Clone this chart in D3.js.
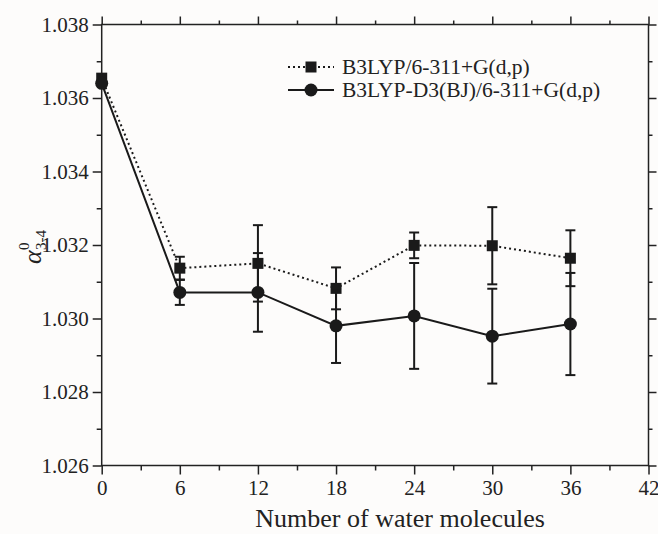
<!DOCTYPE html>
<html>
<head>
<meta charset="utf-8">
<script src="https://cdn.jsdelivr.net/npm/d3@7"></script>
<style>
  body { margin: 0; background: #fdfcfb; }
  svg { display: block; }
  .axis path, .axis line { stroke: #222; stroke-width: 1.5; }
</style>
</head>
<body>
<div id="chart"></div>
<script>
// data
const waters = [0, 6, 12, 18, 24, 30, 36];
const b3lyp = [1.03654, 1.03137, 1.03150, 1.03082, 1.03199, 1.03198, 1.03164];
const b3lypErr = [0, 0.00031, 0.00104, 0.00057, 0.00035, 0.00105, 0.00076];
const b3lypD3 = [1.03640, 1.03071, 1.03071, 1.02980, 1.03007, 1.02952, 1.02985];
const b3lypD3Err = [0, 0.00034, 0.00107, 0.00101, 0.00144, 0.00129, 0.00139];
const xTicks = [0, 6, 12, 18, 24, 30, 36, 42];
const xMinor = [3, 9, 15, 21, 27, 33, 39];
const yTicks = [1.026, 1.028, 1.030, 1.032, 1.034, 1.036, 1.038];
const yMinor = [1.027, 1.029, 1.031, 1.033, 1.035, 1.037];
const legendNames = ["B3LYP/6-311+G(d,p)", "B3LYP-D3(BJ)/6-311+G(d,p)"];

const width = 658, height = 534;
const margin = {top: 24.5, right: 9.5, bottom: 68.5, left: 101.7};
const ink = "#1a1a1a";
const serif = "Liberation Serif, Times New Roman, serif";

const svg = d3.select("#chart").append("svg")
  .attr("width", width)
  .attr("height", height);

const x = d3.scaleLinear().domain([0, 42]).range([margin.left, width - margin.right]);
const y = d3.scaleLinear().domain([1.026, 1.038]).range([height - margin.bottom, margin.top]);

// frame axes: major + minor ticks, all pointing outward
const yBot = y.range()[0], yTop = y.range()[1], xLeft = x.range()[0], xRight = x.range()[1];

svg.append("g").attr("class", "axis").attr("transform", `translate(0,${yBot})`)
  .call(d3.axisBottom(x).tickValues(xTicks).tickSize(9).tickPadding(6).tickFormat(d3.format("d")));
svg.append("g").attr("class", "axis").attr("transform", `translate(0,${yBot})`)
  .call(d3.axisBottom(x).tickValues(xMinor).tickSize(5).tickFormat(""));
svg.append("g").attr("class", "axis").attr("transform", `translate(0,${yTop})`)
  .call(d3.axisTop(x).tickValues(xTicks).tickSize(8).tickFormat(""));
svg.append("g").attr("class", "axis").attr("transform", `translate(0,${yTop})`)
  .call(d3.axisTop(x).tickValues(xMinor).tickSize(4).tickFormat(""));

svg.append("g").attr("class", "axis").attr("transform", `translate(${xLeft},0)`)
  .call(d3.axisLeft(y).tickValues(yTicks).tickSize(9).tickPadding(4).tickFormat(d3.format(".3f")));
svg.append("g").attr("class", "axis").attr("transform", `translate(${xLeft},0)`)
  .call(d3.axisLeft(y).tickValues(yMinor).tickSize(5).tickFormat(""));
svg.append("g").attr("class", "axis").attr("transform", `translate(${xRight},0)`)
  .call(d3.axisRight(y).tickValues(yTicks).tickSize(8).tickFormat(""));
svg.append("g").attr("class", "axis").attr("transform", `translate(${xRight},0)`)
  .call(d3.axisRight(y).tickValues(yMinor).tickSize(4).tickFormat(""));

svg.selectAll(".axis").attr("font-family", serif).attr("font-size", 21);
svg.selectAll(".axis text").attr("fill", "#222");
svg.selectAll(".axis .domain").remove();
svg.append("rect")
  .attr("x", xLeft).attr("y", yTop)
  .attr("width", xRight - xLeft).attr("height", yBot - yTop)
  .attr("fill", "none").attr("stroke", "#222").attr("stroke-width", 1.5);

// axis titles
svg.append("text")
  .attr("x", (xLeft + xRight) / 2 + 25)
  .attr("y", 527)
  .attr("text-anchor", "middle")
  .style("font-family", serif)
  .style("font-size", "26px")
  .attr("fill", "#222")
  .text("Number of water molecules");

const yl = svg.append("g").attr("transform", "translate(41,250) rotate(-90)")
  .style("font-family", serif).attr("fill", "#222");
yl.append("text").attr("x", -14).attr("y", 0).style("font-size", "26px").style("font-style", "italic").text("α");
yl.append("text").attr("x", 0).attr("y", -12).style("font-size", "15px").text("0");
yl.append("text").attr("x", 0).attr("y", 5).style("font-size", "15px").text("3-4");

// series
const series = [
  {name: legendNames[0], vals: b3lyp, err: b3lypErr, dash: "2,3", shape: "square"},
  {name: legendNames[1], vals: b3lypD3, err: b3lypD3Err, dash: null, shape: "circle"}
];

const line = d3.line().x(d => x(d[0])).y(d => y(d[1]));

series.forEach(s => {
  const pts = waters.map((w, i) => [w, s.vals[i], s.err[i]]);
  const g = svg.append("g");

  // error bars
  const eb = g.selectAll(".eb").data(pts.filter(d => d[2] > 0)).join("g");
  eb.append("line")
    .attr("x1", d => x(d[0])).attr("x2", d => x(d[0]))
    .attr("y1", d => y(d[1] - d[2])).attr("y2", d => y(d[1] + d[2]))
    .attr("stroke", ink).attr("stroke-width", 2);
  [-1, 1].forEach(sign => {
    eb.append("line")
      .attr("x1", d => x(d[0]) - 5).attr("x2", d => x(d[0]) + 5)
      .attr("y1", d => y(d[1] + sign * d[2])).attr("y2", d => y(d[1] + sign * d[2]))
      .attr("stroke", ink).attr("stroke-width", 2);
  });

  g.append("path")
    .attr("d", line(pts))
    .attr("fill", "none")
    .attr("stroke", ink)
    .attr("stroke-width", 2)
    .attr("stroke-dasharray", s.dash);

  if (s.shape === "square") {
    g.selectAll("rect").data(pts).join("rect")
      .attr("x", d => x(d[0]) - 5.5).attr("y", d => y(d[1]) - 5.5)
      .attr("width", 11).attr("height", 11)
      .attr("fill", ink);
  } else {
    g.selectAll("circle").data(pts).join("circle")
      .attr("cx", d => x(d[0])).attr("cy", d => y(d[1]))
      .attr("r", 6.5)
      .attr("fill", ink);
  }
});

// legend
const legend = svg.append("g");
series.forEach((s, i) => {
  const ly = 67 + i * 23;
  legend.append("line")
    .attr("x1", 288).attr("x2", 334).attr("y1", ly).attr("y2", ly)
    .attr("stroke", ink).attr("stroke-width", 2)
    .attr("stroke-dasharray", s.dash);
  if (s.shape === "square") {
    legend.append("rect").attr("x", 305.5).attr("y", ly - 5.5).attr("width", 11).attr("height", 11).attr("fill", ink);
  } else {
    legend.append("circle").attr("cx", 311).attr("cy", ly).attr("r", 6.5).attr("fill", ink);
  }
  legend.append("text")
    .attr("x", 342).attr("y", ly + 7)
    .style("font-family", serif)
    .style("font-size", "21.5px")
    .attr("fill", "#222")
    .text(s.name);
});
</script>
</body>
</html>
